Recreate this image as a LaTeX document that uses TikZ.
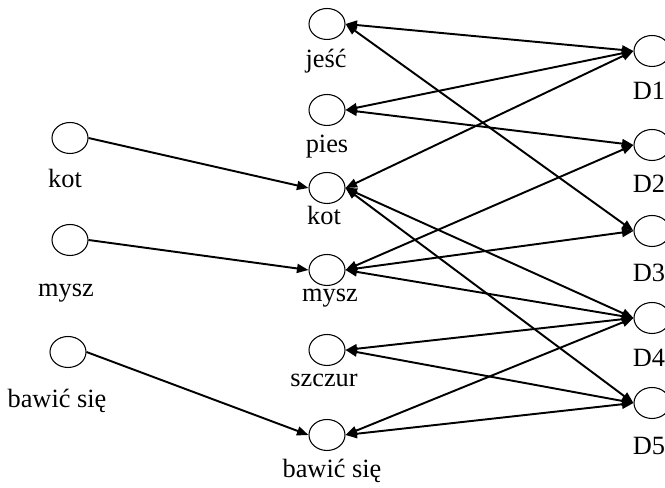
\documentclass[tikz,border=0pt]{standalone}
\usepackage{fontspec}
\setmainfont{Liberation Serif}
\usetikzlibrary{shapes.geometric,arrows.meta}

\begin{document}
\begin{tikzpicture}[
  krag/.style={ellipse,draw,line width=0.6pt,minimum width=0.72cm,minimum height=0.62cm,inner sep=0pt},
  podpis/.style={anchor=base,inner sep=0pt,font=\fontsize{15}{18}\selectfont},
  grot/.style={line width=1.1pt,-{Triangle[length=2.3mm,width=1.8mm]}},
  grot2/.style={line width=1.1pt,{Triangle[length=2.3mm,width=1.8mm]}-{Triangle[length=2.3mm,width=1.8mm]}}
]
\useasboundingbox (0,0) rectangle (13.3,9.76);

% lewa kolumna
\node[krag] (kotL) at (1.4,7.0) {};
\node[krag] (myszL) at (1.4,4.96) {};
\node[krag] (bawL) at (1.36,2.72) {};

% srodkowa kolumna
\node[krag] (jesc) at (6.54,9.28) {};
\node[krag] (pies) at (6.54,7.56) {};
\node[krag] (kotM) at (6.54,6.0) {};
\node[krag] (myszM) at (6.54,4.36) {};
\node[krag] (szczur) at (6.54,2.76) {};
\node[krag] (bawM) at (6.54,1.06) {};

% dokumenty
\node[krag] (d1) at (13.04,8.74) {};
\node[krag] (d2) at (13.04,6.86) {};
\node[krag] (d3) at (13.04,5.14) {};
\node[krag] (d4) at (13.04,3.40) {};
\node[krag] (d5) at (13.04,1.70) {};

\node[podpis,xshift=-0.1cm,yshift=-1cm] (kotLt) at (kotL) {kot};
\node[podpis,xshift=-0.08cm,yshift=-1.14cm] (myszLt) at (myszL) {mysz};
\node[podpis,xshift=-0.22cm,yshift=-1.12cm] (bawLt) at (bawL) {bawić się};

\node[podpis,xshift=-0.02cm,yshift=-0.88cm] (jesct) at (jesc) {jeść};
\node[podpis,yshift=-0.86cm] (piest) at (pies) {pies};
\node[podpis,xshift=-0.06cm,yshift=-0.73cm] (kotMt) at (kotM) {kot};
\node[podpis,xshift=0.06cm,yshift=-0.64cm] (myszMt) at (myszM) {mysz};
\node[podpis,xshift=-0.06cm,yshift=-0.74cm] (szczurt) at (szczur) {szczur};
\node[podpis,xshift=0.1cm,yshift=-0.86cm] (bawMt) at (bawM) {bawić się};

\node[podpis,xshift=-0.06cm,yshift=-0.98cm] (d1t) at (d1) {D1};
\node[podpis,xshift=-0.06cm,yshift=-0.96cm] (d2t) at (d2) {D2};
\node[podpis,xshift=-0.06cm,yshift=-1.02cm] (d3t) at (d3) {D3};
\node[podpis,xshift=-0.06cm,yshift=-0.98cm] (d4t) at (d4) {D4};
\node[podpis,xshift=-0.06cm,yshift=-1.04cm] (d5t) at (d5) {D5};

\foreach \a/\b in {kotL/kotM,myszL/myszM,bawL/bawM}
\draw[grot] (\a.east) -- (\b.west);

\foreach \a/\b in {jesc/d1,jesc/d3,pies/d1,pies/d2,kotM/d1,kotM/d4,kotM/d5,
  myszM/d2,myszM/d3,myszM/d4,szczur/d4,szczur/d5,bawM/d4,bawM/d5}
\draw[grot2] (\a.east) -- (\b.west);
\end{tikzpicture}
\end{document}
